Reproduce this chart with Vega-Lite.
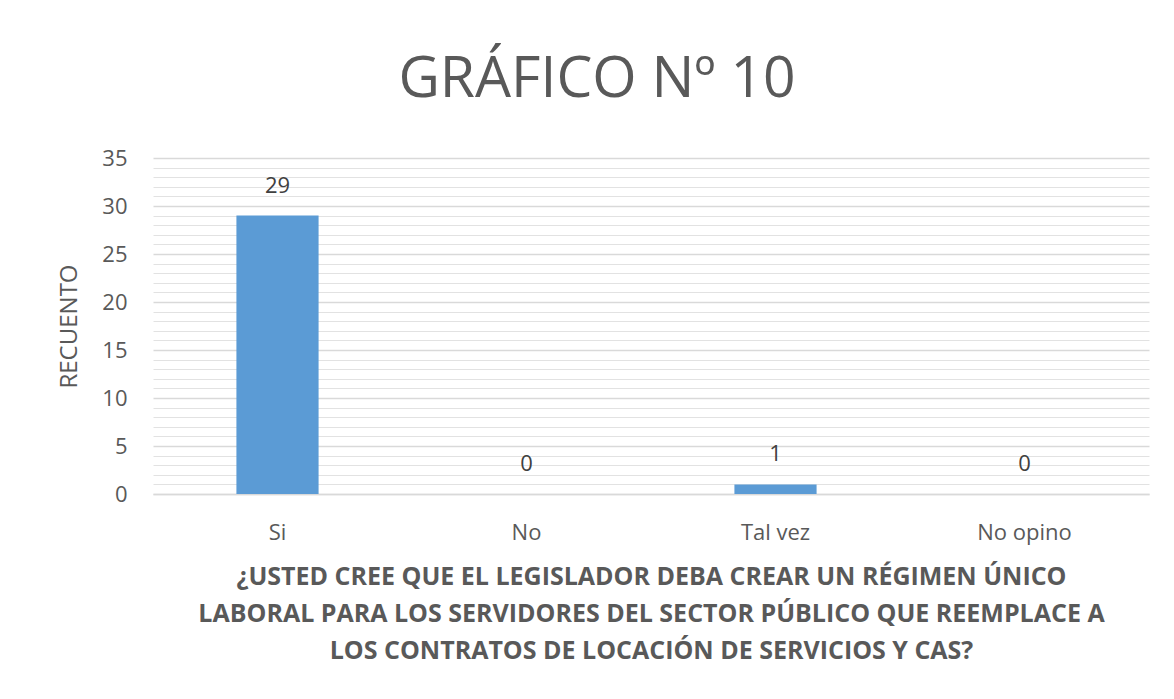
{
  "$schema": "https://vega.github.io/schema/vega-lite/v6.json",
  "width": 996,
  "height": 336,
  "autosize": {"type": "none"},
  "padding": {"left": 153, "top": 158, "right": 25, "bottom": 205},
  "background": "white",
  "config": {"view": {"stroke": null}, "font": "Open Sans"},
  "title": {
    "text": "GRÁFICO Nº 10",
    "fontSize": 57,
    "font": "Open Sans",
    "fontWeight": "normal",
    "color": "#595959",
    "anchor": "middle",
    "dx": -54,
    "offset": 38
  },
  "data": {
    "values": [
      {"respuesta": "Si", "recuento": 29},
      {"respuesta": "No", "recuento": 0},
      {"respuesta": "Tal vez", "recuento": 1},
      {"respuesta": "No opino", "recuento": 0}
    ]
  },
  "encoding": {
    "x": {
      "field": "respuesta",
      "type": "nominal",
      "sort": null,
      "scale": {"paddingInner": 0.67, "paddingOuter": 0.335},
      "axis": {
        "labelAngle": 0,
        "labelFontSize": 22,
        "labelColor": "#595959",
        "labelPadding": 28,
        "ticks": false,
        "tickSize": 0,
        "domainColor": "#d9d9d9",
        "domainWidth": 1.5,
        "title": [
          "¿USTED CREE QUE EL LEGISLADOR DEBA CREAR UN RÉGIMEN ÚNICO",
          "LABORAL PARA LOS SERVIDORES DEL SECTOR PÚBLICO QUE REEMPLACE A",
          "LOS CONTRATOS DE LOCACIÓN DE SERVICIOS Y CAS?"
        ],
        "titleFontSize": 25,
        "titleFontWeight": "bold",
        "titleColor": "#595959",
        "titleLineHeight": 37,
        "titlePadding": 21
      }
    }
  },
  "layer": [
    {
      "mark": {"type": "bar", "color": "#5B9BD5"},
      "encoding": {
        "y": {
          "field": "recuento",
          "type": "quantitative",
          "scale": {"domain": [0, 35], "nice": false},
          "axis": {
            "values": [0, 5, 10, 15, 20, 25, 30, 35],
            "labelFontSize": 22,
            "labelColor": "#595959",
            "labelPadding": 26,
            "ticks": false,
            "tickSize": 0,
            "domain": false,
            "gridColor": "#d9d9d9",
            "gridWidth": 1.5,
            "title": "RECUENTO",
            "titleFontSize": 24,
            "titleFontWeight": "normal",
            "titleColor": "#595959",
            "titlePadding": 20
          }
        }
      }
    },
    {
      "mark": {"type": "text", "fontSize": 22, "color": "#404040", "baseline": "middle", "dy": -30},
      "encoding": {
        "y": {
          "field": "recuento",
          "type": "quantitative",
          "scale": {"domain": [0, 35], "nice": false},
          "axis": {
            "orient": "left",
            "values": [1,2,3,4,6,7,8,9,11,12,13,14,16,17,18,19,21,22,23,24,26,27,28,29,31,32,33,34],
            "labels": false,
            "ticks": false,
            "tickSize": 0,
            "domain": false,
            "grid": true,
            "gridColor": "#e2e2e2",
            "gridWidth": 1,
            "title": null
          }
        },
        "text": {"field": "recuento", "type": "quantitative"}
      }
    }
  ],
  "resolve": {"axis": {"y": "independent"}}
}
